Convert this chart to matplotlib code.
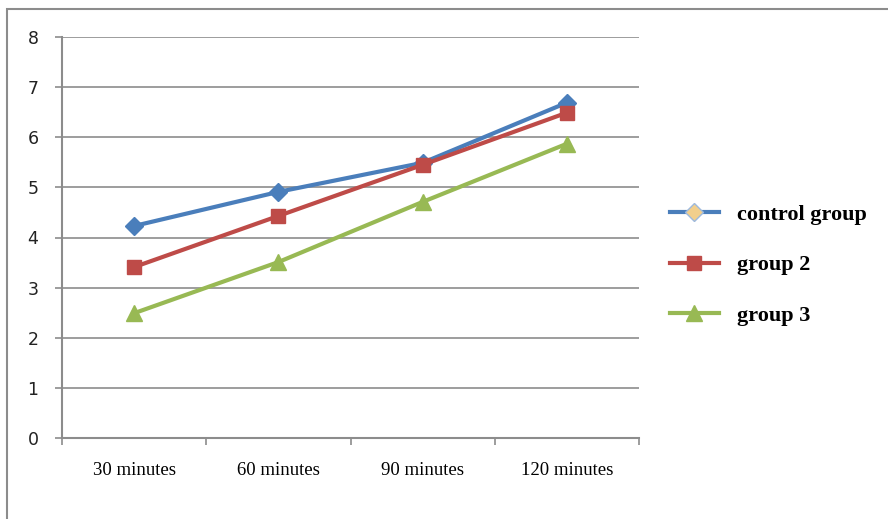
import matplotlib.pyplot as plt
from matplotlib.lines import Line2D
from matplotlib.patches import Rectangle

categories = ['30 minutes', '60 minutes', '90 minutes', '120 minutes']
control_group = [4.23, 4.91, 5.49, 6.69]
group_2 = [3.41, 4.43, 5.45, 6.49]
group_3 = [2.49, 3.51, 4.71, 5.87]
y_ticks = [0, 1, 2, 3, 4, 5, 6, 7, 8]

BLUE = '#4A7EBB'
RED = '#BE4B48'
GREEN = '#98B954'
GRID = '#8C8C8C'

fig = plt.figure(figsize=(8.88, 5.19), dpi=100)
ax = fig.add_axes([62 / 888, 1 - 438 / 519, (639 - 62) / 888, (438 - 37) / 519])

x = list(range(len(categories)))
ax.plot(x, control_group, color=BLUE, lw=3, marker='D', ms=9, mfc=BLUE, mec=BLUE, zorder=3)
ax.plot(x, group_2, color=RED, lw=3, marker='s', ms=10.5, mfc=RED, mec=RED, zorder=4)
ax.plot(x, group_3, color=GREEN, lw=3, marker='^', ms=11, mfc=GREEN, mec=GREEN, zorder=5)

ax.set_xlim(-0.5, len(categories) - 0.5)
ax.set_ylim(0, 8)
ax.set_yticks(y_ticks)
ax.set_yticklabels([str(v) for v in y_ticks], fontsize=12.5, family='DejaVu Sans', color='#222222')
ax.tick_params(axis='y', length=5, width=1.2, color=GRID, pad=12)

# category ticks sit between the categories, labels under the points
ax.set_xticks([i - 0.5 for i in range(len(categories) + 1)])
ax.set_xticklabels([])
ax.set_xticks(x, minor=True)
ax.set_xticklabels(categories, minor=True, fontsize=13.5, family='Liberation Serif')
ax.tick_params(axis='x', which='major', length=5, width=1.2, color=GRID)
ax.tick_params(axis='x', which='minor', length=0, pad=17)

ax.grid(axis='y', color=GRID, lw=1.2)
ax.set_axisbelow(True)
for side in ['top', 'right']:
    ax.spines[side].set_visible(False)
for side in ['left', 'bottom']:
    ax.spines[side].set_color(GRID)
    ax.spines[side].set_linewidth(1.5)

handles = [
    Line2D([], [], color=BLUE, lw=3, marker='D', ms=9, mfc='#F2CF8C', mec='#9DB9DD'),
    Line2D([], [], color=RED, lw=3, marker='s', ms=10.5, mfc=RED, mec=RED),
    Line2D([], [], color=GREEN, lw=3, marker='^', ms=11, mfc=GREEN, mec=GREEN),
]
labels = ['control group', 'group 2', 'group 3']
fig.legend(handles, labels, loc='center left', bbox_to_anchor=(650 / 888, 1 - 265 / 519),
           frameon=False, handlelength=2.2, labelspacing=1.35, handletextpad=0.8,
           prop={'family': 'Liberation Serif', 'weight': 'bold', 'size': 16})

fig.patches.append(Rectangle((7 / 888, -0.1), 1.2, 1 - 9 / 519 + 0.1, transform=fig.transFigure,
                             fill=False, edgecolor='#8C8C8C', lw=1.5))

fig.savefig('out.png', dpi=100)
